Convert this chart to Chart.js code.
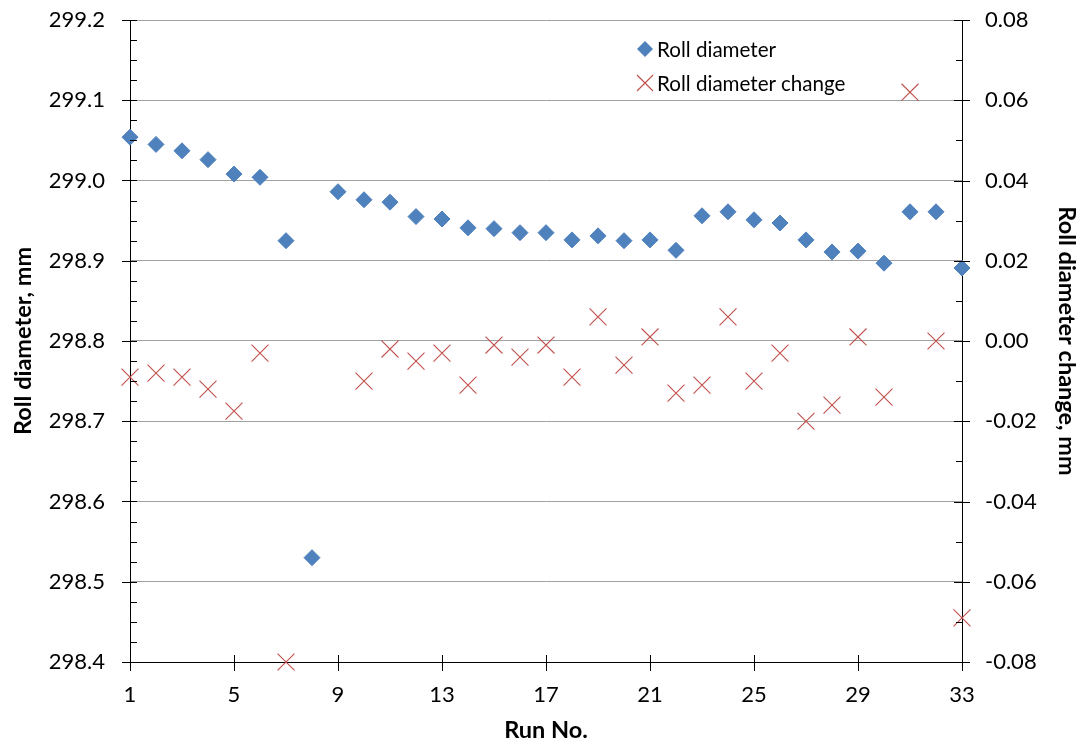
<!DOCTYPE html>
<html>
<head>
<meta charset="utf-8">
<script src="https://cdn.jsdelivr.net/npm/chart.js@4/dist/chart.umd.min.js"></script>
<style>
  html, body { margin: 0; padding: 0; background: #fff; }
  #wrap { position: relative; width: 1085px; height: 748px; }
  #legend { position: absolute; left: 636px; top: 35px; font-family: Lato, sans-serif; font-size: 20.6px; color: #000; }
  #legend div { position: relative; height: 34px; line-height: 28px; padding-left: 21px; }
  #legend svg { position: absolute; left: 0; top: 5px; }
</style>
</head>
<body>
<div id="wrap">
  <canvas id="chart" width="1085" height="748"></canvas>
  <div id="legend">
    <div><svg width="18" height="18"><polygon points="9,1 17,9 9,17 1,9" fill="#4F81BD"/></svg>Roll diameter</div>
    <div><svg width="18" height="18"><path d="M1,1 L17,17 M17,1 L1,17" stroke="#C0504D" stroke-width="1.1" fill="none"/></svg>Roll diameter change</div>
  </div>
</div>
<script>
// run numbers
var runs = [1,2,3,4,5,6,7,8,9,10,11,12,13,14,15,16,17,18,19,20,21,22,23,24,25,26,27,28,29,30,31,32,33]

// roll diameter, mm (left axis)
var diameter = [299.054, 299.045, 299.037, 299.026, 299.008, 299.004, 298.925, 298.530, 298.986, 298.976,
  298.973, 298.955, 298.952, 298.941, 298.940, 298.935, 298.935, 298.926, 298.931, 298.925,
  298.926, 298.913, 298.956, 298.961, 298.951, 298.947, 298.926, 298.911, 298.912, 298.897,
  298.961, 298.961, 298.891]

// roll diameter change, mm (right axis) - 8 and 9 are off the scale
var change = [-0.009, -0.008, -0.009, -0.012, -0.0175, -0.003, -0.080, null, null, -0.010,
  -0.002, -0.005, -0.003, -0.011, -0.001, -0.004, -0.001, -0.009, 0.006, -0.006,
  0.001, -0.013, -0.011, 0.006, -0.010, -0.003, -0.020, -0.016, 0.001, -0.014,
  0.062, 0.000, -0.069]

var xTicks = [1, 5, 9, 13, 17, 21, 25, 29, 33]
var yTicks = [298.4, 298.5, 298.6, 298.7, 298.8, 298.9, 299.0, 299.1, 299.2]
var y2Ticks = [-0.08, -0.06, -0.04, -0.02, 0, 0.02, 0.04, 0.06, 0.08]

var toPoints = (ys) => runs.map((r, i) => ({ x: r, y: ys[i] }))
var setTicks = (arr) => (scale) => { scale.ticks = arr.map((v) => ({ value: v })) }

var tickFont = { family: 'Lato', size: 22 }
var titleFont = { family: 'Lato', size: 23.5, weight: 'bold' }

// tick marks like excel: majors cross the axis, minors point inward
var tickMarks = {
  id: 'tickMarks',
  afterDraw: (chart) => {
    var ctx = chart.ctx
    var a = chart.chartArea
    var sx = chart.scales.x, sy = chart.scales.y, sy2 = chart.scales.y2
    ctx.save()
    ctx.strokeStyle = '#000'
    ctx.lineWidth = 1
    ctx.beginPath()
    yTicks.forEach((v, i) => {
      var p = Math.round(sy.getPixelForValue(v)) + 0.5
      ctx.moveTo(a.left - 8, p); ctx.lineTo(a.left + 7, p)
      if (i < yTicks.length - 1) {
        for (var k = 1; k < 4; k++) {
          var m = Math.round(sy.getPixelForValue(v + k * 0.025)) + 0.5
          ctx.moveTo(a.left, m); ctx.lineTo(a.left + 7, m)
        }
      }
    })
    y2Ticks.forEach((v, i) => {
      var p = Math.round(sy2.getPixelForValue(v)) + 0.5
      ctx.moveTo(a.right - 8, p); ctx.lineTo(a.right + 8, p)
      if (i < y2Ticks.length - 1) {
        var m = Math.round(sy2.getPixelForValue(v + 0.01)) + 0.5
        ctx.moveTo(a.right - 6, m); ctx.lineTo(a.right, m)
      }
    })
    xTicks.forEach((v) => {
      var p = Math.round(sx.getPixelForValue(v)) + 0.5
      ctx.moveTo(p, a.bottom - 7); ctx.lineTo(p, a.bottom + 9)
    })
    ctx.stroke()
    ctx.restore()
  }
}

new Chart(document.getElementById('chart'), {
  type: 'scatter',
  data: {
    datasets: [{
      label: 'Roll diameter',
      data: toPoints(diameter),
      yAxisID: 'y',
      pointStyle: 'rectRot',
      pointRadius: 8,
      pointBackgroundColor: '#4F81BD',
      pointBorderColor: '#4F81BD',
      pointBorderWidth: 1,
      clip: false
    }, {
      label: 'Roll diameter change',
      data: toPoints(change),
      yAxisID: 'y2',
      pointStyle: 'crossRot',
      pointRadius: 12,
      pointBorderColor: '#C0504D',
      pointBorderWidth: 1.1,
      clip: false
    }]
  },
  options: {
    responsive: false,
    animation: false,
    layout: { padding: { top: 20, left: 0, right: 0, bottom: 0 } },
    plugins: {
      legend: { display: false },
      tooltip: { enabled: false }
    },
    scales: {
      x: {
        type: 'linear',
        min: 1,
        max: 33,
        afterBuildTicks: setTicks(xTicks),
        afterFit: (s) => { s.height = 86 },
        grid: { drawOnChartArea: false, drawTicks: true, tickLength: 20, tickColor: 'rgba(0,0,0,0)' },
        border: { display: true, color: '#000', width: 1 },
        ticks: { font: tickFont, color: '#000', padding: 0, maxRotation: 0 },
        title: { display: true, text: 'Run No.', font: titleFont, color: '#000', padding: { top: 0, bottom: 3 } }
      },
      y: {
        position: 'left',
        min: 298.4,
        max: 299.2,
        afterBuildTicks: setTicks(yTicks),
        afterFit: (s) => { s.width = 130 },
        grid: { color: '#A0A0A0', lineWidth: 1, drawTicks: true, tickLength: 25, tickColor: 'rgba(0,0,0,0)' },
        border: { display: true, color: '#000', width: 1 },
        ticks: { font: tickFont, color: '#000', padding: 0, callback: (v) => v.toFixed(1) },
        title: { display: true, text: 'Roll diameter, mm', font: titleFont, color: '#000', padding: { top: 9, bottom: 0 } }
      },
      y2: {
        position: 'right',
        min: -0.08,
        max: 0.08,
        afterBuildTicks: setTicks(y2Ticks),
        afterFit: (s) => { s.width = 123 },
        grid: { drawOnChartArea: false, drawTicks: true, tickLength: 23, tickColor: 'rgba(0,0,0,0)' },
        border: { display: true, color: '#000', width: 1 },
        ticks: { font: tickFont, color: '#000', padding: 0, callback: (v) => v.toFixed(2) },
        title: { display: true, text: 'Roll diameter change, mm', font: titleFont, color: '#000', padding: { top: 4, bottom: 0 } }
      }
    }
  },
  plugins: [tickMarks]
})
</script>
</body>
</html>
